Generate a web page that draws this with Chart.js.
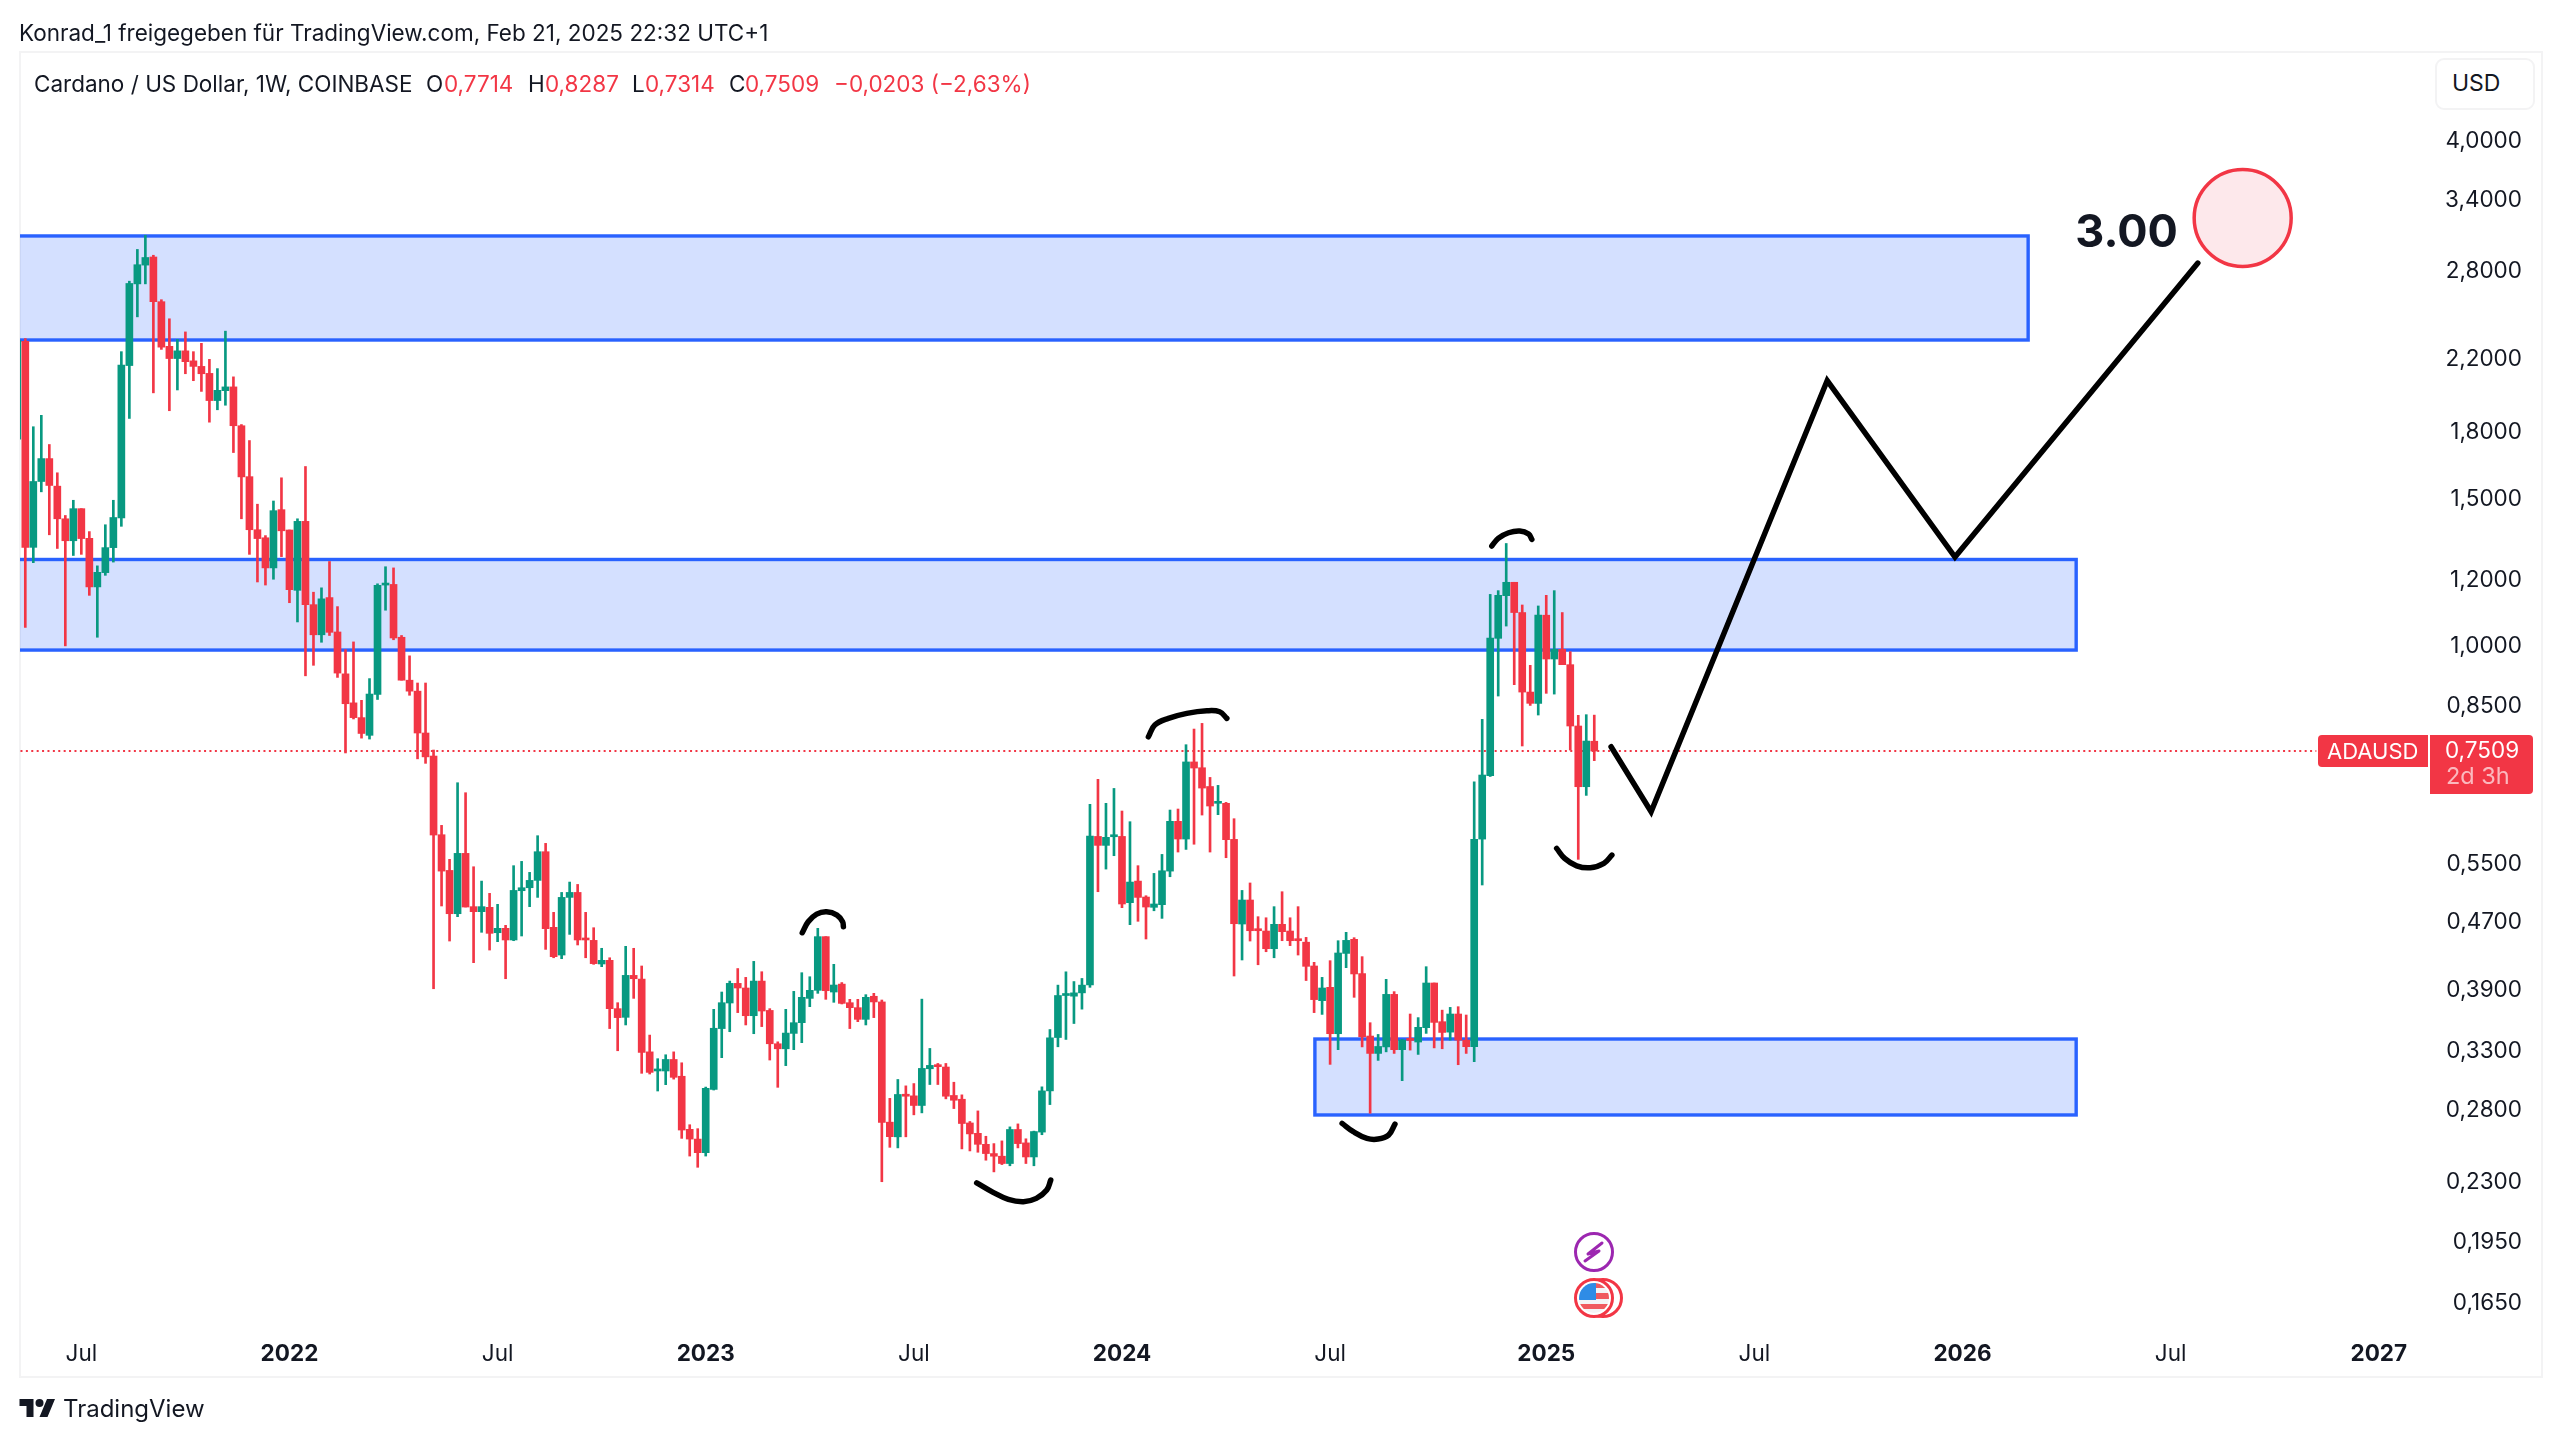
<!DOCTYPE html>
<html>
<head>
<meta charset="utf-8">
<title>Cardano / US Dollar</title>
<script src="https://cdn.jsdelivr.net/npm/chart.js@4"></script>
<style>
    html, body { margin: 0; padding: 0; background: #fff; }
    body { position: relative; width: 2560px; height: 1442px; overflow: hidden; font-family: Inter, "Noto Sans", sans-serif; color: #131722; }
    canvas { position: absolute; left: 0; top: 0; }
    .t { position: absolute; white-space: nowrap; transform: translateY(-50%); line-height: 1; }
    .red { color: #F23645; }
    #frame { position: absolute; left: 19px; top: 51px; width: 2520px; height: 1323px; border: 2px solid #f3f3f4; }
    #usd { position: absolute; left: 2435px; top: 58px; width: 96px; height: 48px; border: 2px solid #f3f3f4; border-radius: 9px; background: #fff; }
    .tag { position: absolute; background: #F23645; }
</style>
</head>
<body>
<div id="frame"></div>
<canvas id="myChart" width="2560" height="1442"></canvas>

<div class="t" style="left:19px;top:33px;font-size:22.5px">Konrad_1 freigegeben für TradingView.com, Feb 21, 2025 22:32 UTC+1</div>
<div class="t" style="left:34px;top:84px;font-size:22.5px">Cardano / US Dollar, 1W, COINBASE</div>
<div class="t" style="left:426px;top:84px;font-size:22.5px">O</div>
<div class="t red" style="left:444px;top:84px;font-size:22.5px">0,7714</div>
<div class="t" style="left:528px;top:84px;font-size:22.5px">H</div>
<div class="t red" style="left:545px;top:84px;font-size:22.5px">0,8287</div>
<div class="t" style="left:632px;top:84px;font-size:22.5px">L</div>
<div class="t red" style="left:645px;top:84px;font-size:22.5px">0,7314</div>
<div class="t" style="left:729px;top:84px;font-size:22.5px">C</div>
<div class="t red" style="left:745px;top:84px;font-size:22.5px">0,7509</div>
<div class="t red" style="left:834px;top:84px;font-size:22.5px">−0,0203 (−2,63%)</div>

<div id="usd"></div>
<div class="t" style="left:2452px;top:83px;font-size:23px">USD</div>

<div class="tag" style="left:2318px;top:735px;width:110px;height:32px;border-radius:4px 0 0 4px"></div>
<div class="tag" style="left:2430px;top:735px;width:103px;height:59px;border-radius:0 4px 4px 0"></div>
<div class="t" style="left:2327px;top:751px;font-size:22px;color:#fff">ADAUSD</div>
<div class="t" style="left:2445px;top:750px;font-size:22.5px;color:#fff">0,7509</div>
<div class="t" style="left:2446px;top:776px;font-size:23.5px;color:rgba(255,255,255,.65)">2d 3h</div>

<svg style="position:absolute;left:1570px;top:1228px" width="60" height="96" viewBox="0 0 60 96">
    <circle cx="24" cy="24" r="18.5" fill="#fff" stroke="#9C27B0" stroke-width="3"/>
    <path d="M32 15 L18 26 L29 23 L15 33" fill="none" stroke="#9C27B0" stroke-width="3" stroke-linecap="round" stroke-linejoin="round"/>
    <circle cx="33" cy="70" r="18.5" fill="#fff" stroke="#F23645" stroke-width="3"/>
    <circle cx="24" cy="70" r="18.5" fill="#fff" stroke="#F23645" stroke-width="3"/>
    <clipPath id="flag"><circle cx="24" cy="70" r="15"/></clipPath>
    <g clip-path="url(#flag)">
        <rect x="9" y="55" width="30" height="30" fill="#f4f4f6"/>
        <rect x="24" y="55" width="15" height="5" fill="#F05A5F"/>
        <rect x="24" y="65" width="15" height="6" fill="#F05A5F"/>
        <rect x="9" y="76" width="30" height="5" fill="#F05A5F"/>
        <rect x="9" y="55" width="17" height="17" fill="#2F8CE6"/>
    </g>
</svg>

<svg style="position:absolute;left:19px;top:1399px" width="37" height="18" viewBox="0 4 36 18">
    <path d="M14 22H7V11H0V4h14v18zM28 22h-8l7.5-18h8L28 22z" fill="#131722"/>
    <circle cx="20" cy="8" r="4" fill="#131722"/>
</svg>
<div class="t" style="left:63px;top:1409px;font-size:24px">TradingView</div>

<script>
let opens = [
    1.767, 2.310, 1.313, 1.573, 1.675, 1.553, 1.420, 1.337, 1.460, 1.346,
    1.178, 1.225, 1.312, 1.423, 2.162, 2.705, 2.848, 2.912, 2.576, 2.279,
    2.204, 2.251, 2.190, 2.157, 2.116, 1.964, 2.018, 2.039, 1.833, 1.594,
    1.378, 1.348, 1.241, 1.456, 1.377, 1.167, 1.410, 1.122, 1.033, 1.144,
    1.041, .928, .857, .823, .784, .877, 1.184, 1.186, 1.026, .912,
    .885, .789, .7407, .5969, .5412, .4806, .5671, .4900, .4833, .4891,
    .4562, .4617, .4472, .5119, .5161, .5266, .5697, .4630, .4291, .5026,
    .5095, .4488, .4467, .4187, .4229, .3704, .3617, .4058, .4017, .3290,
    .3122, .3122, .3222, .3077, .2660, .2590, .2495, .2968, .3507, .3762,
    .3970, .3920, .3633, .3995, .3686, .3364, .3318, .3461, .3564, .3810,
    .3895, .4513, .3877, .3962, .3765, .3714, .3597, .3832, .3773, .2713,
    .2606, .2921, .2916, .2840, .3141, .3173, .3156, .2919, .2889, .2707,
    .2631, .2553, .2489, .2471, .2422, .2659, .2563, .2466, .2640, .2956,
    .3422, .3840, .3833, .3868, .3952, .5941, .5797, .5936, .5941, .4954,
    .5256, .5031, .4891, .4927, .5402, .6192, .5899, .7288, .7173, .6813,
    .6506, .6506, .5893, .4672, .4990, .4604, .4583, .4366, .4668, .4583,
    .4476, .4445, .4164, .3786, .3927, .3458, .4310, .4480, .4078, .3436,
    .3276, .3335, .3852, .3310, .3401, .3380, .3516, .3974, .3574, .3473,
    .3650, .3398, .3337, .5898, .7018, 1.023, 1.150, 1.193, 1.098, .8828,
    .8559, 1.090, .9666, .9925, .9517, .8043, .6809, .7714
]
let highs = [
    2.320, 2.328, 1.828, 1.886, 1.741, 1.611, 1.433, 1.494, 1.460, 1.371,
    1.248, 1.397, 1.494, 2.246, 2.725, 2.973, 3.091, 2.926, 2.590, 2.458,
    2.323, 2.371, 2.246, 2.298, 2.199, 2.144, 2.376, 2.096, 1.839, 1.760,
    1.478, 1.356, 1.491, 1.589, 1.377, 1.420, 1.639, 1.161, 1.175, 1.263,
    1.116, .992, 1.013, .863, .916, 1.188, 1.245, 1.241, 1.031, .975,
    .905, .905, .7530, .6124, .5579, .6884, .6698, .5467, .5256, .5082,
    .4931, .4655, .5483, .5548, .5383, .5953, .5829, .4824, .5095, .5242,
    .5208, .4824, .4625, .4371, .4259, .3765, .4395, .4371, .4164, .3445,
    .3229, .3264, .3290, .3193, .2694, .2665, .2987, .3697, .3877, .3995,
    .4135, .4036, .4217, .4099, .3704, .3382, .3697, .3884, .4088, .4043,
    .4617, .4513, .4183, .3979, .3800, .3800, .3849, .3863, .3793, .2896,
    .3050, .2997, .3016, .3802, .3321, .3187, .3187, .3027, .2924, .2718,
    .2798, .2610, .2558, .2577, .2678, .2700, .2592, .2647, .2989, .3498,
    .3951, .4098, .3990, .4024, .6488, .6948, .6506, .6777, .6370, .6186,
    .5483, .5049, .5368, .5655, .6387, .6405, .7641, .7976, .8101, .6985,
    .6834, .6523, .6237, .5123, .5229, .4767, .4753, .4900, .5105, .4753,
    .4900, .4504, .4206, .4036, .4225, .4463, .4567, .4500, .4272, .3564,
    .3451, .4014, .3881, .3405, .3650, .3614, .4156, .3974, .3689, .3717,
    .3724, .3640, .6903, .8191, 1.154, 1.166, 1.327, 1.193, 1.121, .9499,
    1.118, 1.151, 1.166, 1.098, .9862, .8282, .8297, .8287
]
let lows = [
    1.760, 1.054, 1.259, 1.529, 1.359, 1.309, 1.002, 1.284, 1.288, 1.151,
    1.026, 1.216, 1.261, 1.391, 1.870, 2.471, 2.705, 2.006, 2.260, 1.910,
    2.022, 2.114, 2.074, 2.014, 1.851, 1.915, 1.939, 1.703, 1.420, 1.288,
    1.194, 1.184, 1.203, 1.280, 1.128, 1.070, .923, .950, 1.012, 1.031,
    .919, .747, .820, .778, .776, .865, 1.105, 1.019, .912, .875,
    .735, .726, .3912, .4909, .4459, .4767, .4895, .4202, .4567, .4350,
    .4451, .4021, .4463, .4521, .4900, .5026, .4358, .4259, .4248, .4541,
    .4411, .4259, .4183, .4156, .3507, .3300, .3542, .3810, .3102, .3096,
    .2955, .3007, .3053, .2595, .2472, .2397, .2472, .2963, .3238, .3477,
    .3664, .3542, .3458, .3526, .3217, .2985, .3168, .3310, .3374, .3724,
    .3863, .3800, .3769, .3752, .3507, .3574, .3542, .3614, .2304, .2532,
    .2528, .2606, .2768, .2783, .3008, .3008, .2892, .2816, .2521, .2507,
    .2498, .2444, .2367, .2415, .2407, .2528, .2422, .2407, .2621, .2847,
    .3336, .3404, .3556, .3699, .3927, .5105, .5432, .5635, .4886, .4664,
    .4707, .4484, .4845, .4745, .5319, .5692, .5733, .5815, .6300, .5692,
    .6306, .5604, .4051, .4233, .4459, .4178, .4330, .4259, .4463, .4403,
    .4291, .4001, .3664, .3646, .3179, .3310, .4145, .3821, .3335, .2780,
    .3214, .3290, .3276, .3040, .3306, .3267, .3461, .3326, .3318, .3398,
    .3176, .3276, .3202, .5200, .7003, .8732, 1.058, .9008, .7614, .8510,
    .8289, .8797, .8779, .9517, .7530, .5579, .6649, .7314
]
let closes = [
    2.315, 1.313, 1.573, 1.675, 1.556, 1.420, 1.337, 1.460, 1.345, 1.178,
    1.226, 1.312, 1.425, 2.165, 2.708, 2.851, 2.908, 2.576, 2.274, 2.204,
    2.251, 2.185, 2.157, 2.114, 1.964, 2.020, 2.039, 1.833, 1.593, 1.378,
    1.345, 1.241, 1.452, 1.374, 1.169, 1.410, 1.122, 1.033, 1.140, 1.040,
    .930, .855, .823, .788, .878, 1.183, 1.189, 1.024, .912, .885,
    .789, .739, .5964, .5402, .4806, .5671, .4895, .4833, .4900, .4554,
    .4617, .4472, .5123, .5161, .5266, .5697, .4613, .4272, .5026, .5095,
    .4472, .4472, .4191, .4229, .3704, .3614, .4058, .4021, .3285, .3110,
    .3130, .3222, .3068, .2655, .2590, .2495, .2977, .3510, .3765, .3970,
    .3920, .3633, .3995, .3680, .3364, .3318, .3464, .3564, .3821, .3895,
    .4513, .3891, .3952, .3758, .3714, .3597, .3821, .3773, .2711, .2607,
    .2927, .2913, .2840, .3144, .3170, .3159, .2913, .2881, .2703, .2627,
    .2553, .2489, .2471, .2422, .2659, .2558, .2466, .2644, .2956, .3419,
    .3840, .3847, .3868, .3951, .5947, .5797, .5926, .5958, .4936, .5242,
    .5026, .4895, .4936, .5407, .6192, .5899, .7288, .7167, .6784, .6458,
    .6523, .5888, .4676, .4990, .4587, .4587, .4366, .4668, .4575, .4463,
    .4463, .4160, .3797, .3920, .3458, .4315, .4467, .4074, .3429, .3276,
    .3339, .3852, .3310, .3398, .3395, .3519, .3974, .3567, .3470, .3650,
    .3398, .3337, .5893, .7031, 1.024, 1.151, 1.193, 1.098, .8828, .8559,
    1.090, .9666, .9925, .9517, .8043, .6809, .7718, .7509
]

let priceTicks = [4, 3.4, 2.8, 2.2, 1.8, 1.5, 1.2, 1, 0.85, 0.55, 0.47, 0.39, 0.33, 0.28, 0.23, 0.195, 0.165]
let weekTicks = [8, 34, 60, 86, 112, 138, 164, 191, 217, 243, 269, 295]
let weekLabels = ['Jul', '2022', 'Jul', '2023', 'Jul', '2024', 'Jul', '2025', 'Jul', '2026', 'Jul', '2027']

let zoneStart = [-5, -5, 162.1]
let zoneEnd = [251.2, 257.2, 257.2]
let zoneTop = [3.085, 1.27, 0.3408]
let zoneBottom = [2.319, 0.9906, 0.2767]

let lastClose = 0.7509
let priceLineEnd = 287.2

let pathWeeks = [199.1, 204.1, 226.1, 242.06, 272.4]
let pathPrices = [0.7598, 0.6357, 2.075, 1.2786, 2.864]

let arcWeeks = [
    [98.06, 98.8, 99.86, 101.1, 102.4, 103.1, 103.2],
    [141.3, 142.1, 143.8, 146.1, 148.6, 150.2, 151.1],
    [119.85, 121.9, 123.8, 125.7, 127.3, 128.6, 129.1],
    [165.5, 166.9, 168.6, 170, 171.3, 172.1],
    [184.2, 185, 186.3, 187.7, 188.8, 189.2],
    [192.3, 193.3, 194.8, 196.5, 198.2, 199.2]
]
let arcPrices = [
    [0.4562, 0.4701, 0.4801, 0.4832, 0.4788, 0.4701, 0.4637],
    [0.7809, 0.8064, 0.8213, 0.8327, 0.8387, 0.8364, 0.8213],
    [0.2297, 0.2238, 0.2195, 0.2181, 0.2201, 0.2252, 0.2314],
    [0.2704, 0.2643, 0.2595, 0.259, 0.2618, 0.2699],
    [1.3178, 1.3459, 1.3667, 1.3732, 1.3618, 1.3422],
    [0.575, 0.5594, 0.5481, 0.5452, 0.5518, 0.5645]
]

let targetWeek = 278
let targetPrice = 3.241
let targetLabelWeek = 263.5
let targetLabelPrice = 3.11

const UP = '#089981'
const DOWN = '#F23645'

function candleColor(i){
    return closes[i] >= opens[i] ? UP : DOWN
}

function weekIndexes(){
    return opens.map((o, i) => i)
}

function pairUp(xs, ys){
    return xs.map((x, i) => ({x: x, y: ys[i]}))
}

// blue boxes go under the candles
let zonesPlugin = {
    id: 'zones',
    beforeDatasetsDraw(chart){
        let {ctx, chartArea, scales} = chart
        ctx.save()
        ctx.beginPath()
        ctx.rect(chartArea.left, chartArea.top, chartArea.right - chartArea.left, chartArea.bottom - chartArea.top)
        ctx.clip()
        zoneStart.forEach((start, i) => {
            let x0 = scales.x.getPixelForValue(start)
            let x1 = scales.x.getPixelForValue(zoneEnd[i])
            let y0 = scales.y.getPixelForValue(zoneTop[i])
            let y1 = scales.y.getPixelForValue(zoneBottom[i])
            ctx.fillStyle = 'rgba(41, 98, 255, 0.2)'
            ctx.fillRect(x0, y0, x1 - x0, y1 - y0)
            ctx.strokeStyle = '#2962FF'
            ctx.lineWidth = 3.4
            ctx.strokeRect(x0, y0, x1 - x0, y1 - y0)
        })
        ctx.restore()
    }
}

let targetLabelPlugin = {
    id: 'targetLabel',
    afterDatasetsDraw(chart){
        let {ctx, scales} = chart
        ctx.save()
        ctx.font = '700 45px Inter'
        ctx.fillStyle = '#131722'
        ctx.textAlign = 'center'
        ctx.textBaseline = 'middle'
        ctx.fillText('3.00', scales.x.getPixelForValue(targetLabelWeek), scales.y.getPixelForValue(targetLabelPrice))
        ctx.restore()
    }
}

function drawingDataset(data){
    return {
        type: 'line',
        data: data,
        order: 0,
        borderColor: '#000000',
        borderWidth: 5.5,
        borderCapStyle: 'round',
        borderJoinStyle: 'miter',
        pointRadius: 0,
        fill: false
    }
}

let datasets = []

datasets.push({
    type: 'line',
    data: [{x: targetWeek, y: targetPrice}],
    order: 0,
    showLine: false,
    pointRadius: 48.5,
    pointBackgroundColor: '#FDE8EB',
    pointBorderColor: '#F23645',
    pointBorderWidth: 3.5,
    clip: false
})

datasets.push(drawingDataset(pairUp(pathWeeks, pathPrices)))

arcWeeks.forEach((weeks, i) => {
    let arc = drawingDataset(pairUp(weeks, arcPrices[i]))
    arc.tension = 0.4
    datasets.push(arc)
})

datasets.push({
    data: weekIndexes().map((i) => ({x: i, y: [opens[i], closes[i]]})),
    order: 1,
    grouped: false,
    barThickness: 7,
    minBarLength: 2,
    borderWidth: 0,
    backgroundColor: weekIndexes().map(candleColor)
})

datasets.push({
    data: weekIndexes().map((i) => ({x: i, y: [lows[i], highs[i]]})),
    order: 2,
    grouped: false,
    barThickness: 2,
    borderWidth: 0,
    backgroundColor: weekIndexes().map(candleColor)
})

datasets.push({
    type: 'line',
    data: [{x: -5, y: lastClose}, {x: priceLineEnd, y: lastClose}],
    order: 3,
    borderColor: DOWN,
    borderWidth: 2,
    borderDash: [2, 3.4],
    pointRadius: 0,
    fill: false
})

let config = {
    type: 'bar',
    data: {datasets: datasets},
    plugins: [zonesPlugin, targetLabelPlugin],
    options: {
        responsive: false,
        animation: false,
        events: [],
        layout: {
            autoPadding: false,
            padding: {left: 20, top: 52, right: 38, bottom: 66}
        },
        plugins: {
            legend: {display: false},
            tooltip: {enabled: false}
        },
        scales: {
            x: {
                type: 'linear',
                offset: false,
                min: 0.338,
                max: 302.9,
                grid: {display: false, drawTicks: false},
                border: {display: false},
                afterBuildTicks: function(scale){
                    scale.ticks = weekTicks.map((v) => ({value: v}))
                },
                afterFit: function(scale){
                    scale.height = 46
                },
                ticks: {
                    autoSkip: false,
                    maxRotation: 0,
                    padding: 11,
                    color: '#131722',
                    font: function(ctx){
                        let isYear = ctx.index % 2 == 1
                        return {family: 'Inter', size: 22.5, weight: isYear ? '700' : '400'}
                    },
                    callback: function(value, index){
                        return weekLabels[index]
                    }
                }
            },
            y: {
                type: 'logarithmic',
                position: 'right',
                min: 0.1534,
                max: 5.11,
                grid: {display: false, drawTicks: false},
                border: {display: false},
                afterBuildTicks: function(scale){
                    scale.ticks = priceTicks.map((v) => ({value: v}))
                },
                afterFit: function(scale){
                    scale.width = 80
                },
                ticks: {
                    autoSkip: false,
                    padding: 0,
                    crossAlign: 'far',
                    color: '#131722',
                    font: {family: 'Inter', size: 22.5},
                    callback: function(value){
                        return value.toFixed(4).replace('.', ',')
                    }
                }
            }
        }
    }
}

let mychart = new Chart(document.getElementById('myChart'), config)
</script>
</body>
</html>
